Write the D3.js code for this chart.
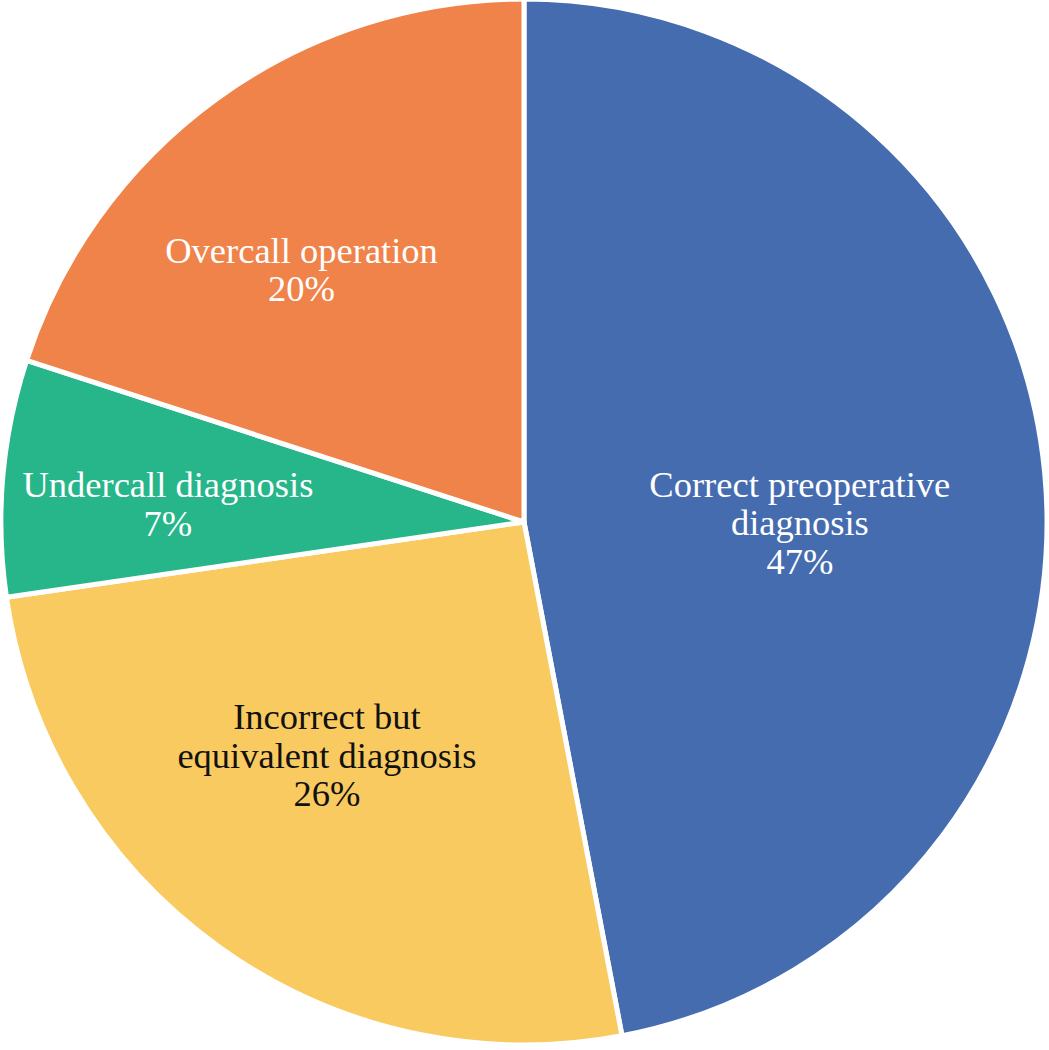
<!DOCTYPE html>
<html>
<head>
<meta charset="utf-8">
<script src="https://cdn.jsdelivr.net/npm/d3@7"></script>
<style>
  html, body { margin: 0; padding: 0; background: #ffffff; }
  svg { display: block; }
</style>
</head>
<body>
<svg id="chart" width="1049" height="1050"></svg>
<script>
// ---- data ----
const categories = ["Correct preoperative diagnosis", "Incorrect but equivalent diagnosis", "Undercall diagnosis", "Overcall operation"];
const values = [47.0, 25.7, 7.3, 20.0];
const percentLabels = ["47%", "26%", "7%", "20%"];
const labelLines = [
  ["Correct preoperative", "diagnosis"],
  ["Incorrect but", "equivalent diagnosis"],
  ["Undercall diagnosis"],
  ["Overcall operation"]
];

// ---- style / layout ----
const colors = ["#466cb0", "#f9ca60", "#27b68a", "#f0834a"];
const textColors = ["#ffffff", "#111111", "#ffffff", "#ffffff"];
// label placement: angle offset from slice mid-angle (deg), radius fraction
const labelAngleOffset = [8.1, 3.3, -4.0, -6.8];
const labelRadiusFrac = [0.528, 0.602, 0.681, 0.626];

const cx = 524, cy = 522, R = 523;
const fontSize = 36.5, lineH = 38.5;

const svg = d3.select("#chart");
const g = svg.append("g").attr("transform", `translate(${cx},${cy})`);

const data = categories.map((c, i) => ({ name: c, value: values[i], i }));
const pie = d3.pie().value(d => d.value).sort(null).startAngle(0).endAngle(2 * Math.PI);
const arcs = pie(data);
const arc = d3.arc().innerRadius(0).outerRadius(R);

g.selectAll("path.slice")
  .data(arcs)
  .join("path")
  .attr("class", "slice")
  .attr("d", arc)
  .attr("fill", d => colors[d.data.i])
  .attr("stroke", "#ffffff")
  .attr("stroke-width", 5)
  .attr("stroke-linejoin", "round");

g.selectAll("text.lbl")
  .data(arcs)
  .join("text")
  .attr("class", "lbl")
  .attr("font-family", "'Liberation Serif', 'Times New Roman', serif")
  .attr("font-size", fontSize)
  .attr("text-anchor", "middle")
  .attr("fill", d => textColors[d.data.i])
  .each(function(d) {
    const i = d.data.i;
    const mid = (d.startAngle + d.endAngle) / 2 + labelAngleOffset[i] * Math.PI / 180;
    const r = labelRadiusFrac[i] * R;
    const x = r * Math.sin(mid);
    const y = -r * Math.cos(mid);
    const lines = labelLines[i].concat([percentLabels[i]]);
    const n = lines.length;
    const t = d3.select(this);
    lines.forEach((ln, k) => {
      t.append("tspan")
        .attr("x", x)
        .attr("y", y + (k - (n - 1) / 2) * lineH)
        .text(ln);
    });
  });
</script>
</body>
</html>
